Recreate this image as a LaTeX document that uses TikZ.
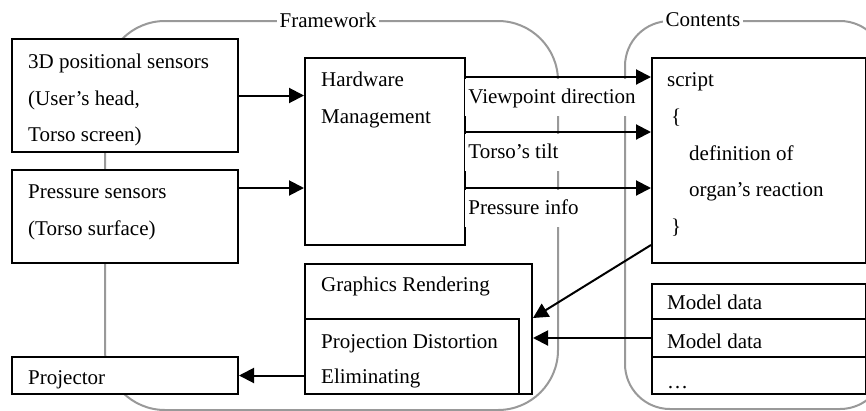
\documentclass[tikz,border=0pt]{standalone}
\usepackage{fontspec}
\setmainfont{Liberation Serif}
\usetikzlibrary{arrows.meta,calc}
\newcommand\mytxt[4]{\node[txt] (#1) at (#2,#3) {#4};}
\begin{document}
\begin{tikzpicture}[x=1pt,y=-1pt,
  box/.style={draw=black, line width=2pt, fill=white, inner sep=0pt, anchor=north west},
  grp/.style={draw=gray!80, line width=2pt, inner sep=0pt, anchor=north west},
  glbl/.style={fill=white, inner xsep=3pt, inner ysep=1pt, font=\fontsize{21}{25}\selectfont},
  txt/.style={anchor=base west, inner sep=0pt, font=\fontsize{21}{25}\selectfont},
  lbl/.style={anchor=north west, fill=white, inner xsep=3pt, inner ysep=0pt, text height=24.5pt, text depth=12.5pt, font=\fontsize{21}{25}\selectfont},
  arr/.style={line width=2pt, -{Triangle[length=15pt,width=15pt]}}
]
\useasboundingbox (0,0) rectangle (866,410);
\clip (0,0) rectangle (866,410);
\fill[white] (0,0) rectangle (866,410);
% groups
\node[grp, rounded corners=60pt, minimum width=453, minimum height=389] (fw) at (104,20) {};
\node[grp, rounded corners=45pt, minimum width=260, minimum height=388] (ct) at (624,20) {};
\node[glbl] (fwl) at (328,20) {Framework};
\node[glbl] (ctl) at (703,20) {Contents};
% boxes
\node[box, minimum width=226, minimum height=113] (s3d) at (11,38) {};
\node[box, minimum width=226, minimum height=93] (ps) at (11,169) {};
\node[box, minimum width=226, minimum height=37] (proj) at (11,356) {};
\node[box, minimum width=160, minimum height=187] (hw) at (304,57) {};
\node[box, minimum width=227, minimum height=130] (gr) at (304,263) {};
\node[box, minimum width=214, minimum height=75] (pd) at (304,318) {};
\node[box, minimum width=214, minimum height=205] (sc) at (651,57) {};
\node[box, minimum width=214, minimum height=35] (md1) at (651,283) {};
\node[box, minimum width=214, minimum height=38] (md2) at (651,318) {};
\node[box, minimum width=214, minimum height=37] (md3) at (651,356) {};
% texts
\mytxt{t3a}{28}{68.5}{3D positional sensors}
\mytxt{t3b}{28}{105}{(User's head,}
\mytxt{t3c}{28}{141.5}{Torso screen)}
\mytxt{tpa}{28}{198.5}{Pressure sensors}
\mytxt{tpb}{28}{235}{(Torso surface)}
\mytxt{thw1}{321}{86.5}{Hardware}
\mytxt{thw2}{321}{123}{Management}
\mytxt{tsc1}{667}{86.5}{script}
\mytxt{tsc2}{671}{123}{\{}
\mytxt{tsc3}{689}{160}{definition of}
\mytxt{tsc4}{689}{196}{organ's reaction}
\mytxt{tsc5}{671}{233}{\}}
\mytxt{tgr}{321}{291.5}{Graphics Rendering}
\mytxt{tpd1}{321}{348.5}{Projection Distortion}
\mytxt{tpd2}{321}{383.5}{Eliminating}
\mytxt{tproj}{28}{384.5}{Projector}
\mytxt{tmd1}{667}{309.5}{Model data}
\mytxt{tmd2}{667}{348.5}{Model data}
\mytxt{tmd3}{667}{388}{…}
% arrow labels
\node[lbl] (lv) at (465.2,78.5) {Viewpoint direction};
\node[lbl] (lt) at (465.2,134) {Torso's tilt};
\node[lbl] (lp) at (465.2,190) {Pressure info};
% arrows
\draw[arr] (s3d.east) -- (s3d.east -| hw.west);
\draw[arr] ($(ps.north east)+(0,19)$) coordinate (a0) -- (a0 -| hw.west);
\draw[arr] ($(hw.north east)+(0,20)$) coordinate (a1) -- (a1 -| sc.west);
\draw[arr] ($(hw.north east)+(0,75)$) coordinate (a2) -- (a2 -| sc.west);
\draw[arr] ($(hw.north east)+(0,131)$) coordinate (a3) -- (a3 -| sc.west);
\draw[arr] ($(sc.south west)+(0,-19)$) -- (gr.east |- pd.north);
\draw[arr] (md2.west) -- (md2.west -| gr.east);
\draw[arr] (proj.east -| pd.west) -- (proj.east);
\end{tikzpicture}
\end{document}
